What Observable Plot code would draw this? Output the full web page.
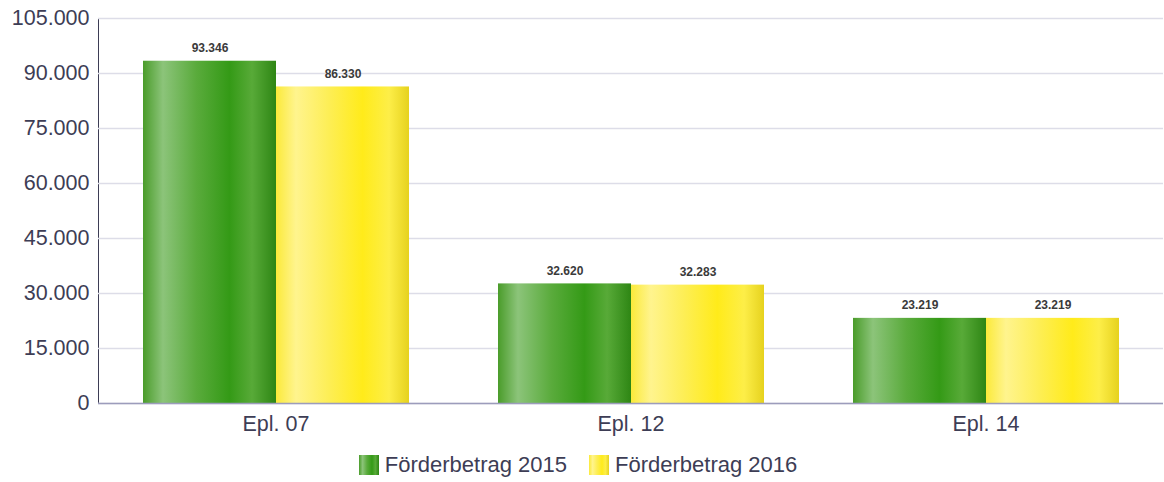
<!DOCTYPE html>
<html>
<head>
<meta charset="utf-8">
<script src="https://cdn.jsdelivr.net/npm/d3@7"></script>
<script src="https://cdn.jsdelivr.net/npm/@observablehq/plot@0.6"></script>
<style>
  html, body { margin: 0; padding: 0; background: #fff; }
  #chart { width: 1164px; }
  .legend { display: flex; justify-content: center; gap: 22px; font-family: "Liberation Sans", Arial, sans-serif; font-size: 22px; color: #3d3d55; margin-top: 4px; padding-left: 0px; margin-left: -8px; }
  .item { display: flex; align-items: center; gap: 6px; }
  .sw { width: 20px; height: 20px; display: inline-block; }
  .g15 { background: linear-gradient(90deg, #4a9c2a 0%, #8cc47a 18%, #5aab3c 40%, #349a16 65%, #58aa38 82%, #2e8614 100%); }
  .g16 { background: linear-gradient(90deg, #fbea3a 0%, #fff48e 18%, #fdee55 40%, #ffeb1a 65%, #fdee48 82%, #e6d21e 100%); }
</style>
</head>
<body>
<div id="chart"></div>
<div class="legend">
  <div class="item"><span class="sw g15"></span><span>Förderbetrag 2015</span></div>
  <div class="item"><span class="sw g16"></span><span>Förderbetrag 2016</span></div>
</div>
<script>
const categories = ["Epl. 07", "Epl. 12", "Epl. 14"];
const series = ["Förderbetrag 2015", "Förderbetrag 2016"];
const values2015 = [93346, 32620, 23219];
const values2016 = [86330, 32283, 23219];
const yTicks = [0, 15000, 30000, 45000, 60000, 75000, 90000, 105000];

const data = [];
categories.forEach((c, i) => {
  data.push({cat: c, series: series[0], value: values2015[i]});
  data.push({cat: c, series: series[1], value: values2016[i]});
});

const de = d3.formatLocale({decimal: ",", thousands: ".", grouping: [3], currency: ["", " €"]});
const fmt = de.format(",d");

const plot = Plot.plot({
  width: 1164,
  height: 448,
  marginLeft: 97,
  marginRight: 0,
  marginTop: 18,
  marginBottom: 45,
  style: {fontFamily: "Liberation Sans, Arial, sans-serif", fontSize: "21.5px", color: "#3d3d55", background: "#fff"},
  fx: {domain: categories, padding: 0, label: null, tickSize: 0, tickPadding: 12, axis: "bottom"},
  x: {domain: series, paddingInner: 0, paddingOuter: 0.328, axis: null},
  y: {domain: [0, 105000], ticks: yTicks, tickFormat: fmt, label: null, tickSize: 0, tickPadding: 9, line: true},
  marks: [
    Plot.gridY(yTicks, {stroke: "#dddde8", strokeOpacity: 1, strokeWidth: 1.5}),
    Plot.barY(data, {fx: "cat", x: "series", y: "value", fill: d => d.series === series[0] ? "url(#grad15)" : "url(#grad16)", inset: 0}),
    Plot.text(data, {fx: "cat", x: "series", y: "value", text: d => fmt(d.value), dy: -13, fontSize: 12, fontWeight: "bold", fill: "#3a3a3a"}),
    Plot.ruleY([0], {stroke: "#9c9cbc", strokeWidth: 1.5})
  ]
});

const svg = d3.select(plot);
svg.selectAll("[aria-label='y-axis line'], [aria-label='y-axis tick'] path, g[aria-label='y-axis line'] *").attr("stroke", "#9c9cbc").attr("stroke-width", 1.5);
const defs = svg.insert("defs", ":first-child");
function grad(id, stops) {
  const g = defs.append("linearGradient").attr("id", id).attr("x1", "0").attr("x2", "1").attr("y1", "0").attr("y2", "0");
  stops.forEach(([o, c]) => g.append("stop").attr("offset", o).attr("stop-color", c));
}
grad("grad15", [[0, "#4a9c2a"], [0.15, "#8cc47a"], [0.4, "#5aab3c"], [0.65, "#349a16"], [0.82, "#58aa38"], [1, "#2e8614"]]);
grad("grad16", [[0, "#fbea3a"], [0.15, "#fff48e"], [0.4, "#fdee55"], [0.65, "#ffeb1a"], [0.85, "#fdee48"], [1, "#e6d21e"]]);

document.getElementById("chart").appendChild(plot);
</script>
</body>
</html>
